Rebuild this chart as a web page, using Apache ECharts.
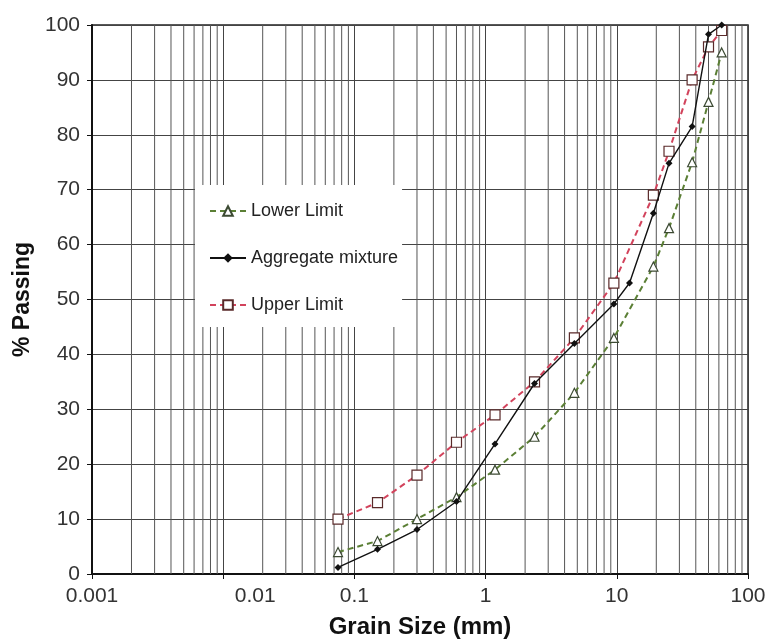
<!DOCTYPE html>
<html>
<head>
<meta charset="utf-8">
<script src="https://cdn.jsdelivr.net/npm/echarts@6/dist/echarts.min.js"></script>
<style>
html,body{margin:0;padding:0;background:#fff;}
#main{width:772px;height:639px;}
</style>
</head>
<body>
<div id="main"></div>
<script>
// Sieve sizes (mm)
const sieveSizes = [0.075, 0.15, 0.3, 0.6, 1.18, 2.36, 4.75, 9.5, 19, 25, 37.5, 50, 63];
const mixtureSizes = [0.075, 0.15, 0.3, 0.6, 1.18, 2.36, 4.75, 9.5, 12.5, 19, 25, 37.5, 50, 63];
// % passing
const lowerLimit = [4, 6, 10, 14, 19, 25, 33, 43, 56, 63, 75, 86, 95];
const upperLimit = [10, 13, 18, 24, 29, 35, 43, 53, 69, 77, 90, 96, 99];
const aggregateMixture = [1.2, 4.5, 8.1, 13.2, 23.7, 34.7, 42, 49.2, 53, 65.7, 74.8, 81.5, 98.3, 100];
// Minor log grid positions (2..9 x each decade)
const decades = [0.001, 0.01, 0.1, 1, 10];
const multipliers = [2, 3, 4, 5, 6, 7, 8, 9];
const minorGrid = [];
decades.forEach(d => multipliers.forEach(m => minorGrid.push(+(d * m).toPrecision(3))));
const yTicks = [0, 10, 20, 30, 40, 50, 60, 70, 80, 90, 100];

const FONT = 'Liberation Sans, Arial, sans-serif';
const pair = (xs, ys) => xs.map((x, i) => [x, ys[i]]);
// gridline segments: bottom -> top, then a break
const gridData = [];
minorGrid.forEach(v => { gridData.push([v, yTicks[0]], [v, yTicks[yTicks.length - 1]], [v, '-']); });

const chart = echarts.init(document.getElementById('main'), null, {renderer: 'canvas'});
chart.setOption({
  animation: false,
  backgroundColor: '#fff',
  textStyle: {fontFamily: FONT},
  grid: {left: 92, right: 24, top: 25, bottom: 65, outerBoundsMode: 'none', containLabel: false,
         show: true, borderColor: '#222', borderWidth: 1.5, backgroundColor: 'transparent'},
  legend: {
    data: ['Lower Limit', 'Aggregate mixture', 'Upper Limit'],
    orient: 'vertical',
    left: 195, top: 185,
    padding: [17, 4, 13, 14],
    itemGap: 29,
    itemWidth: 36, itemHeight: 12,
    backgroundColor: '#fff',
    textStyle: {fontSize: 18, color: '#222', fontFamily: FONT}
  },
  xAxis: {
    type: 'log', logBase: 10, min: 0.001, max: 100,
    name: 'Grain Size (mm)', nameLocation: 'middle', nameGap: 41,
    nameTextStyle: {fontSize: 24, fontWeight: 'bold', color: '#111', fontFamily: FONT},
    axisLine: {show: true, lineStyle: {color: '#111', width: 2}},
    axisTick: {show: true, length: 5, lineStyle: {color: '#111'}},
    axisLabel: {
      fontSize: 21, color: '#333', margin: 12, fontFamily: FONT,
      formatter: v => (Math.abs(v - 0.01) < 1e-9 ? '{s|0.01}' : String(+v.toPrecision(3))),
      rich: {s: {fontSize: 21, color: '#333', padding: [0, 0, 0, 64], fontFamily: FONT}}
    },
    splitLine: {show: true, lineStyle: {color: '#444', width: 1}},
    minorTick: {show: false}
  },
  yAxis: {
    type: 'value', min: 0, max: 100, interval: 10,
    name: '% Passing', nameLocation: 'middle', nameGap: 56,
    nameTextStyle: {fontSize: 23, fontWeight: 'bold', color: '#111', fontFamily: FONT},
    axisLine: {show: true, lineStyle: {color: '#111', width: 2}},
    axisTick: {show: true, length: 5, lineStyle: {color: '#111'}},
    axisLabel: {fontSize: 21, color: '#333', margin: 12, fontFamily: FONT},
    splitLine: {show: true, lineStyle: {color: '#444', width: 1}}
  },
  series: [
    {
      name: 'minor grid', type: 'line', data: gridData, z: 1, silent: true,
      showSymbol: false, symbol: 'none', connectNulls: false,
      lineStyle: {color: '#555', width: 1, type: 'solid'},
      tooltip: {show: false}
    },
    {
      name: 'Lower Limit', type: 'line', data: pair(sieveSizes, lowerLimit), z: 3,
      symbol: 'triangle', symbolSize: 9,
      lineStyle: {color: '#5b7f35', width: 2, type: [6, 4]},
      itemStyle: {color: '#fff', borderColor: '#3c4a33', borderWidth: 1.2}
    },
    {
      name: 'Aggregate mixture', type: 'line', data: pair(mixtureSizes, aggregateMixture), z: 4,
      symbol: 'diamond', symbolSize: 7,
      lineStyle: {color: '#111', width: 1.4},
      itemStyle: {color: '#111', borderColor: '#111', borderWidth: 0}
    },
    {
      name: 'Upper Limit', type: 'line', data: pair(sieveSizes, upperLimit), z: 3,
      symbol: 'rect', symbolSize: 10,
      lineStyle: {color: '#d2435c', width: 2, type: [6, 4]},
      itemStyle: {color: '#fff', borderColor: '#5a2a2a', borderWidth: 1.2}
    }
  ]
});
</script>
</body>
</html>
